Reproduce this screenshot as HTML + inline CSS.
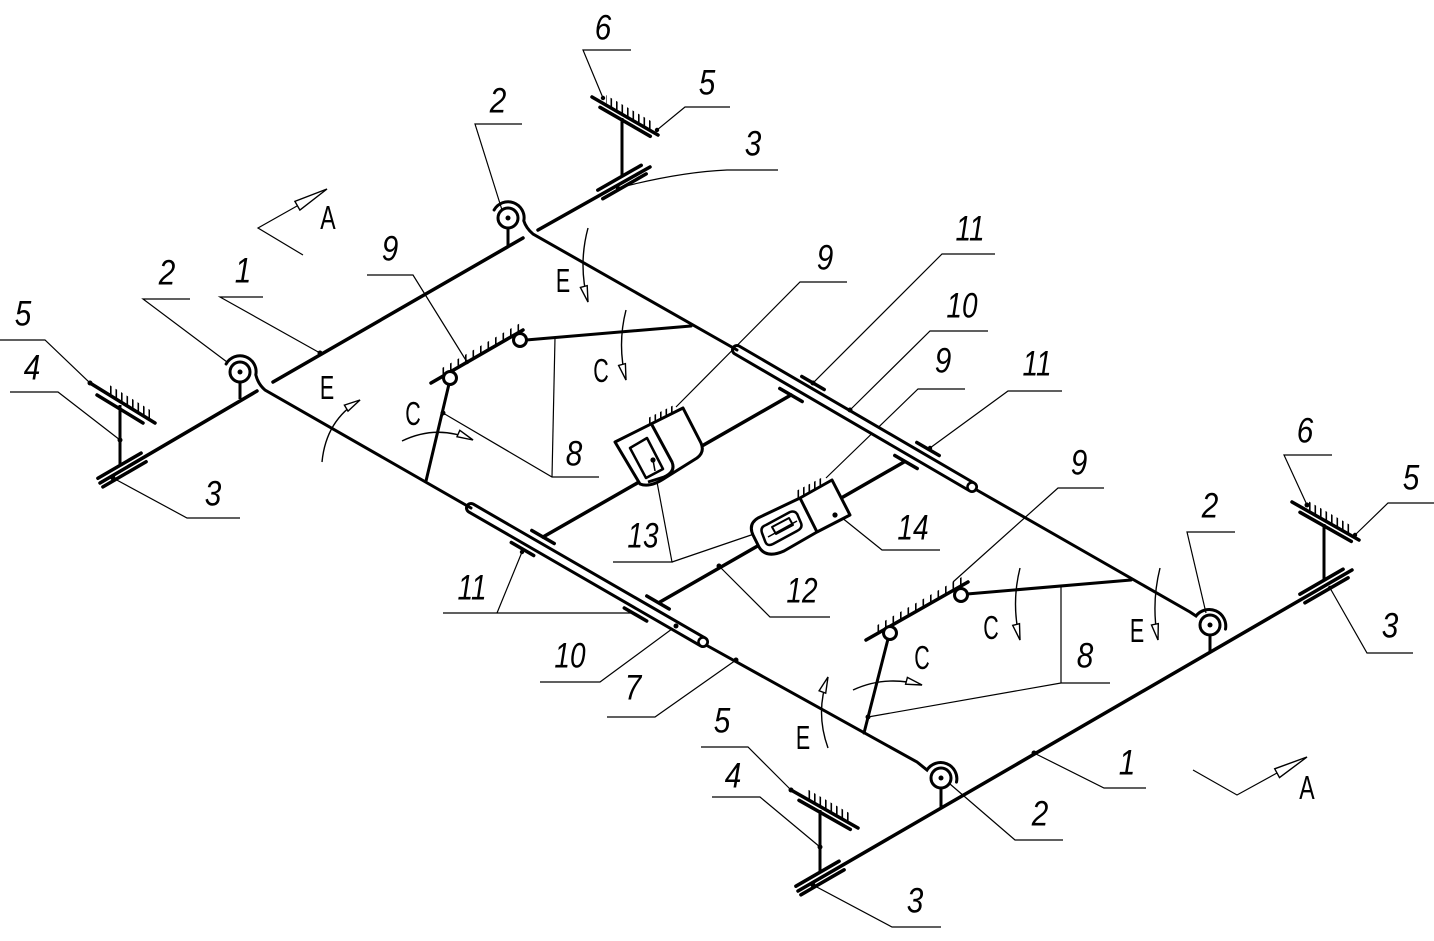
<!DOCTYPE html>
<html><head><meta charset="utf-8">
<style>
html,body{margin:0;padding:0;background:#fff;}
svg{display:block}
.t{font-family:"Liberation Sans",sans-serif;font-style:italic;font-size:35px;fill:#000;text-anchor:middle}
.u{font-family:"Liberation Sans",sans-serif;font-size:33px;fill:#000;text-anchor:middle}
</style></head><body>
<svg width="1434" height="941" viewBox="0 0 1434 941" xmlns="http://www.w3.org/2000/svg">
<defs>
<pattern id="h" width="5.5" height="20" patternUnits="userSpaceOnUse"><rect x="0" y="0" width="1.6" height="20" fill="#000"/></pattern>
<pattern id="h2" width="7.5" height="20" patternUnits="userSpaceOnUse"><rect x="0" y="0" width="1.6" height="20" fill="#000"/></pattern>
</defs>
<rect width="1434" height="941" fill="#fff"/>

<!-- thin leader lines -->
<g stroke="#000" stroke-width="1.2" fill="none">
<polyline points="0,340 45,340 90,383"/>
<polyline points="10,392 58,392 120,440"/>
<polyline points="113,478 187,518 240,518"/>
<polyline points="190,299 143,299 227,362"/>
<polyline points="263,297 220,297 320,353"/>
<polyline points="367,275 413,275 467,362"/>
<polyline points="443,413 552,477 599,477"/>
<line x1="555" y1="338" x2="552" y2="477"/>
<polyline points="303,255 258,228 297,206"/>
<polyline points="522,124 475,124 502,210"/>
<polyline points="631,50 583,50 603,98"/>
<polyline points="657,130 685,107 730,107"/>
<path d="M618,188 Q680,172 727,170 L778,170"/>
<polyline points="847,282 800,282 676,407"/>
<polyline points="995,254 942,254 813,383"/>
<polyline points="988,331 930,331 850,410"/>
<polyline points="965,389 918,389 826,478"/>
<polyline points="1062,391 1008,391 930,448"/>
<polyline points="836,513 882,550 940,550"/>
<polyline points="613,562 672,562 657,482"/>
<line x1="672" y1="562" x2="757" y2="533"/>
<polyline points="719,566 770,617 830,617"/>
<line x1="443" y1="613" x2="633" y2="613"/>
<line x1="497" y1="613" x2="522" y2="552"/>
<polyline points="676,626 600,682 540,682"/>
<polyline points="736,660 655,717 607,717"/>
<polyline points="1104,488 1058,488 953,582"/>
<polyline points="1332,455 1284,455 1307,505"/>
<polyline points="1355,535 1388,503 1434,503"/>
<polyline points="1235,532 1187,532 1206,613"/>
<polyline points="1330,588 1367,653 1413,653"/>
<line x1="1061" y1="586" x2="1061" y2="683"/>
<polyline points="1110,683 1061,683 868,717"/>
<polyline points="1034,753 1104,788 1146,788"/>
<polyline points="1193,770 1237,795 1277,773"/>
<polyline points="943,778 1015,840 1063,840"/>
<polyline points="701,747 748,747 791,790"/>
<polyline points="712,797 760,797 820,847"/>
<polyline points="813,885 892,927 941,927"/>
</g>
<!-- A arrowheads -->
<g stroke="#000" stroke-width="1.4" fill="#fff">
<polygon points="327,189 299.9,210.1 294.9,201.4"/>
<polygon points="1307,757 1279.5,777.6 1274.7,768.8"/>
</g>

<!-- E / C arcs -->
<g stroke="#000" stroke-width="1.4" fill="none">
<path d="M322,462 Q326,420 360,400"/>
<path d="M402,441 Q437,424 473,440"/>
<path d="M588,228 Q578,265 588,302"/>
<path d="M626,310 Q617,345 626,380"/>
<path d="M1020,568 Q1011,604 1020,640"/>
<path d="M1160,568 Q1151,604 1158,640"/>
<path d="M853,690 Q885,675 922,685"/>
<path d="M828,748 Q815,712 828,677"/>
</g>
<g stroke="#000" stroke-width="1.4" fill="#fff">
<polygon points="360,400 348,411.1 344.4,405.1"/>
<polygon points="473,440 457,436.7 459.8,430.3"/>
<polygon points="588,302 580.4,287.4 587.2,285.6"/>
<polygon points="626,380 618.6,365.4 625.4,363.6"/>
<polygon points="1020,640 1012.7,625.4 1019.5,623.7"/>
<polygon points="1158,640 1151.5,625 1158.3,623.6"/>
<polygon points="922,685 905.6,684.2 907.4,677.4"/>
<polygon points="828,677 825.7,693.2 819.1,690.8"/>
</g>

<!-- hatching -->
<g fill="url(#h)" stroke="none">
<polygon points="108,394.1 150,419.9 150,409.9 108,384.1"/>
<polygon points="606,105.1 653,132.2 653,122.2 606,95.1"/>
<polygon points="1306,509.9 1352,536 1352,526 1306,499.9"/>
<polygon points="805,797.9 852,824.6 852,814.6 805,787.9"/>
<polygon points="648,425.5 676,411.5 676,404 648,418"/>
<polygon points="797,498 825,483.6 825,476 797,490.5"/>
</g>
<g fill="url(#h2)" stroke="none">
<polygon points="440,377.8 520,331.7 520,323.2 440,369.3"/>
<polygon points="872,636.6 962,585.4 962,576.9 872,628.1"/>
</g>

<!-- thick structure -->
<g stroke="#000" fill="none" stroke-width="3.5" stroke-linecap="round">
<!-- shafts -->
<line x1="100" y1="483" x2="257" y2="391"/>
<line x1="273" y1="382" x2="523" y2="238"/>
<line x1="538" y1="230" x2="650" y2="167"/>
<line x1="798" y1="891" x2="1352" y2="570"/>
<!-- bearings 3 -->
<line x1="97.9" y1="478.3" x2="141.1" y2="453.1"/>
<line x1="102.9" y1="486.9" x2="146.1" y2="461.7"/>
<line x1="597.8" y1="190.1" x2="641.2" y2="165.3"/>
<line x1="602.8" y1="198.7" x2="646.2" y2="173.9"/>
<line x1="1299.9" y1="594.2" x2="1343.1" y2="569.2"/>
<line x1="1304.9" y1="602.8" x2="1348.1" y2="577.8"/>
<line x1="795.9" y1="886.2" x2="839.1" y2="861.2"/>
<line x1="800.9" y1="894.8" x2="844.1" y2="869.8"/>
<!-- brackets 5 -->
<line x1="90" y1="383" x2="155" y2="423"/>
<line x1="97" y1="395" x2="143" y2="423"/>
<line x1="592" y1="97" x2="658" y2="135"/>
<line x1="600" y1="107.3" x2="650.3" y2="136.3"/>
<line x1="1292" y1="502" x2="1359" y2="540"/>
<line x1="1300" y1="512.3" x2="1351.3" y2="541.4"/>
<line x1="791" y1="790" x2="858" y2="828"/>
<line x1="799" y1="800.3" x2="850.3" y2="829.4"/>
</g>
<g stroke="#000" fill="none" stroke-width="3">
<!-- stems 4 -->
<line x1="120" y1="405" x2="120" y2="466"/>
<line x1="622" y1="118" x2="622" y2="177"/>
<line x1="1324" y1="524" x2="1324" y2="581"/>
<line x1="820" y1="810" x2="820" y2="873"/>
<!-- pulley stems -->
<line x1="240" y1="382" x2="240" y2="399"/>
<line x1="508" y1="228" x2="508" y2="246"/>
<line x1="1210" y1="635" x2="1210" y2="652"/>
<line x1="941" y1="788" x2="941" y2="808"/>
</g>

<!-- tubes 10 -->
<g stroke-linecap="round">
<line x1="737" y1="350" x2="972" y2="487" stroke="#000" stroke-width="12"/>
<line x1="737" y1="350" x2="972" y2="487" stroke="#fff" stroke-width="6"/>
<line x1="471" y1="508" x2="703" y2="642" stroke="#000" stroke-width="12"/>
<line x1="471" y1="508" x2="703" y2="642" stroke="#fff" stroke-width="6"/>
</g>

<!-- cables -->
<g stroke="#000" fill="none" stroke-width="3" stroke-linecap="round">
<path d="M226.1,364 A16,16 0 0 1 255.8,374.8 Q258,384 265,390 L471,508"/>
<path d="M494.1,210 A16,16 0 0 1 523.8,220.8 Q526,228 533,234 L737,350"/>
<path d="M975,489 L1190,612 L1196,616 A16.6,16.6 0 0 1 1225.5,629.1"/>
<path d="M706,645 L917,762 Q922,766 927,770 A16.2,16.2 0 0 1 956.5,782.1"/>
</g>
<g stroke="#000" fill="#fff" stroke-width="2.5">
<circle cx="972" cy="487" r="4.5"/>
<circle cx="703" cy="642" r="4.5"/>
</g>

<!-- pulleys -->
<g stroke="#000" fill="#fff" stroke-width="3">
<circle cx="240" cy="372" r="10"/>
<circle cx="508" cy="218" r="10"/>
<circle cx="1210" cy="625" r="10"/>
<circle cx="941" cy="778" r="10"/>
</g>
<g fill="#000">
<circle cx="240" cy="372" r="2.5"/>
<circle cx="508" cy="218" r="2.5"/>
<circle cx="1210" cy="625" r="2.5"/>
<circle cx="941" cy="778" r="2.5"/>
</g>

<!-- bearings 11 on tubes -->
<g stroke="#000" stroke-width="3.5" stroke-linecap="round">
<line x1="801.8" y1="376.5" x2="824.2" y2="389.5"/>
<line x1="779.8" y1="388.5" x2="802.2" y2="401.5"/>
<line x1="916.8" y1="442.5" x2="939.2" y2="455.5"/>
<line x1="894.8" y1="455.5" x2="917.2" y2="468.5"/>
<line x1="531.8" y1="530.5" x2="554.2" y2="543.5"/>
<line x1="511.3" y1="542.5" x2="533.7" y2="555.5"/>
<line x1="646.8" y1="596" x2="669.2" y2="609"/>
<line x1="624.3" y1="608" x2="646.7" y2="621"/>
<!-- rods 12 -->
<line x1="543" y1="537" x2="791" y2="395"/>
<line x1="660" y1="602" x2="904" y2="462"/>
<!-- support lines 9 -->
<line x1="431" y1="383" x2="523" y2="330"/>
<line x1="866" y1="640" x2="968" y2="582"/>
</g>
<g stroke="#000" stroke-width="3" stroke-linecap="round" fill="none">
<!-- levers 8 -->
<line x1="449" y1="384" x2="426" y2="481"/>
<line x1="888" y1="639" x2="864" y2="733"/>
<line x1="526" y1="340" x2="691" y2="326"/>
<line x1="967" y1="594" x2="1131" y2="580"/>
</g>
<g stroke="#000" fill="#fff" stroke-width="3">
<circle cx="450" cy="378" r="6.5"/>
<circle cx="520" cy="340" r="6.5"/>
<circle cx="890" cy="633" r="6.5"/>
<circle cx="961" cy="595" r="6.5"/>
</g>

<!-- body 13 (upper) -->
<g stroke="#000" stroke-width="3" stroke-linejoin="round">
<path d="M615,442 L683,408 L701,443 Q705,452 697,458 L665,478 Q650,488 640,484 Z" fill="#fff"/>
<path d="M652,425 L672,462 Q676,472 664,477 L648,482" fill="none"/>
<path d="M630,448 L647,438 L663,469 L646,478 Z" fill="none" stroke-width="2.5"/>
<line x1="653" y1="460" x2="655" y2="471" stroke-width="1.5"/>
</g>
<circle cx="653" cy="460" r="2.6" fill="#000"/>

<!-- body 14 -->
<g stroke="#000" stroke-width="3" stroke-linejoin="round">
<path d="M800,498 L832,480 L850,515 L817,532 L784,551 Q766,559 759,547 L753,535 Q748,524 758,518 Z" fill="#fff"/>
<line x1="800" y1="498" x2="817" y2="532"/>
<path d="M766,525 L790,512 Q796,510 798,516 L801,523 Q803,528 797,531 L773,544 Q767,547 765,541 L762,533 Q760,527 766,525 Z" fill="none" stroke-width="2.5"/>
<path d="M772,527 L789,518 L793,525 L776,534 Z" fill="none" stroke-width="2"/>
<line x1="768" y1="537" x2="797" y2="521" stroke-width="1.5"/>
</g>
<circle cx="835" cy="515" r="2.6" fill="#000"/>

<!-- leader dots -->
<g fill="#000">
<circle cx="90" cy="383" r="2.5"/>
<circle cx="120" cy="440" r="2.5"/>
<circle cx="113" cy="478" r="2.5"/>
<circle cx="320" cy="353" r="2.5"/>
<circle cx="467" cy="362" r="2.2"/>
<circle cx="443" cy="413" r="2.5"/>
<circle cx="603" cy="98" r="2.2"/>
<circle cx="657" cy="130" r="2.2"/>
<circle cx="618" cy="188" r="2.2"/>
<circle cx="813" cy="383" r="2.5"/>
<circle cx="850" cy="410" r="2.5"/>
<circle cx="930" cy="448" r="2.2"/>
<circle cx="719" cy="566" r="2.5"/>
<circle cx="522" cy="552" r="2.2"/>
<circle cx="676" cy="626" r="2.5"/>
<circle cx="736" cy="660" r="2.5"/>
<circle cx="1307" cy="505" r="2.5"/>
<circle cx="1355" cy="535" r="2.2"/>
<circle cx="1330" cy="588" r="2.2"/>
<circle cx="868" cy="717" r="2.5"/>
<circle cx="1034" cy="753" r="2.5"/>
<circle cx="791" cy="790" r="2.5"/>
<circle cx="820" cy="847" r="2.5"/>
<circle cx="813" cy="885" r="2.5"/>
</g>

<!-- number labels -->
<g class="t">
<text transform="translate(603,39.5) scale(0.85,1)">6</text>
<text transform="translate(707,94.5) scale(0.85,1)">5</text>
<text transform="translate(753,155.5) scale(0.85,1)">3</text>
<text transform="translate(498,112.5) scale(0.85,1)">2</text>
<text transform="translate(167,284.5) scale(0.85,1)">2</text>
<text transform="translate(243,282.5) scale(0.85,1)">1</text>
<text transform="translate(390,260.5) scale(0.85,1)">9</text>
<text transform="translate(23,325.5) scale(0.85,1)">5</text>
<text transform="translate(32,379.5) scale(0.85,1)">4</text>
<text transform="translate(213,505.5) scale(0.85,1)">3</text>
<text transform="translate(574,465.5) scale(0.85,1)">8</text>
<text transform="translate(825,269.5) scale(0.85,1)">9</text>
<text transform="translate(970,240.5) scale(0.8,1)">11</text>
<text transform="translate(962,317.5) scale(0.8,1)">10</text>
<text transform="translate(943,372.5) scale(0.85,1)">9</text>
<text transform="translate(1037,375.5) scale(0.8,1)">11</text>
<text transform="translate(643,547.5) scale(0.8,1)">13</text>
<text transform="translate(913,539.5) scale(0.8,1)">14</text>
<text transform="translate(802,602.5) scale(0.8,1)">12</text>
<text transform="translate(472,599.5) scale(0.8,1)">11</text>
<text transform="translate(570,667.5) scale(0.8,1)">10</text>
<text transform="translate(633,699.5) scale(0.85,1)">7</text>
<text transform="translate(1079,474.5) scale(0.85,1)">9</text>
<text transform="translate(1305,442.5) scale(0.85,1)">6</text>
<text transform="translate(1411,489.5) scale(0.85,1)">5</text>
<text transform="translate(1210,517.5) scale(0.85,1)">2</text>
<text transform="translate(1390,637.5) scale(0.85,1)">3</text>
<text transform="translate(1085,667.5) scale(0.85,1)">8</text>
<text transform="translate(1127,774.5) scale(0.85,1)">1</text>
<text transform="translate(1040,825.5) scale(0.85,1)">2</text>
<text transform="translate(722,732.5) scale(0.85,1)">5</text>
<text transform="translate(733,787.5) scale(0.85,1)">4</text>
<text transform="translate(915,912.5) scale(0.85,1)">3</text>
</g>
<!-- letter labels -->
<g class="u">
<text transform="translate(328,229) scale(0.7,1)">A</text>
<text transform="translate(327,399) scale(0.65,1)">E</text>
<text transform="translate(413,425) scale(0.65,1)">C</text>
<text transform="translate(563,292) scale(0.65,1)">E</text>
<text transform="translate(601,382) scale(0.65,1)">C</text>
<text transform="translate(991,639) scale(0.65,1)">C</text>
<text transform="translate(1137,642) scale(0.65,1)">E</text>
<text transform="translate(922,669) scale(0.65,1)">C</text>
<text transform="translate(803,749) scale(0.65,1)">E</text>
<text transform="translate(1307,799) scale(0.7,1)">A</text>
</g>
</svg>
</body></html>
